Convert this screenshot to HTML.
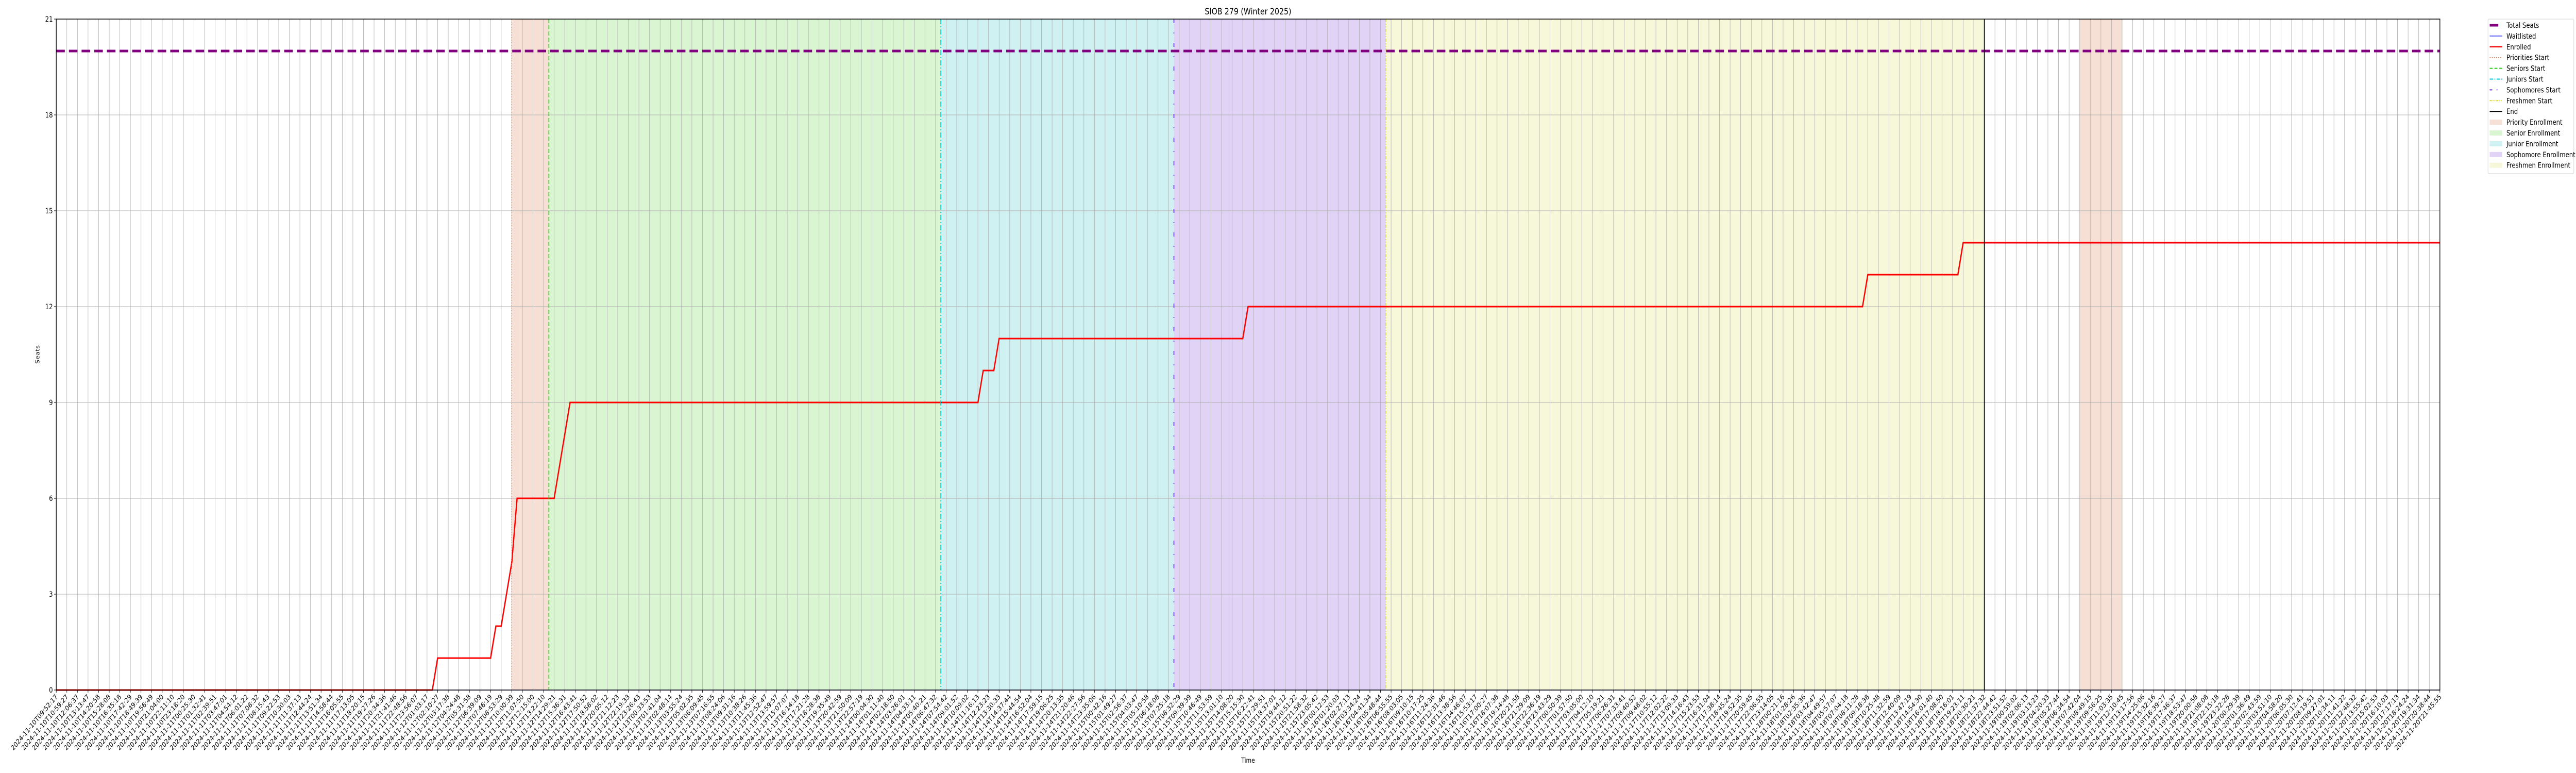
<!DOCTYPE html>
<html><head><meta charset="utf-8"><style>
html,body{margin:0;padding:0;background:#fff;width:100%;height:100%;overflow:hidden;}
svg{display:block;width:100vw;height:100vh;font-family:"DejaVu Sans","Liberation Sans",sans-serif;}
</style></head><body>
<svg id="chart" viewBox="0 0 6000 1500" preserveAspectRatio="none" xmlns="http://www.w3.org/2000/svg">
<g id="spans"></g>
<g id="grid"></g>
<g id="series"></g>
<g id="vlines"></g>
<g id="axes"></g>
<text x="2907" y="28" font-size="17" text-anchor="middle">SIOB 279 (Winter 2025)</text>
<text x="0" y="0" font-size="13" text-anchor="middle" transform="translate(92,688) rotate(-90)">Seats</text>
<text x="2907" y="1480" font-size="13" text-anchor="middle">Time</text>
<g id="legend"></g>
</svg>
<script>
// ---- data ----
const tickCount = 226;
const startTime = "2024-11-10T09:52:17";
const endTime = "2024-11-20T21:45:55";
const yTicks = [0, 3, 6, 9, 12, 15, 18, 21];
const totalSeats = 20;
const enrolledIdx = [0, 35.5, 36, 41, 41.5, 42, 43, 43.5, 47, 48.5, 87, 87.5, 88.5, 89, 112, 112.5, 170.5, 171, 179.5, 180, 225];
const enrolledVal = [0, 0, 1, 1, 2, 2, 4, 6, 6, 9, 9, 10, 10, 11, 11, 12, 12, 13, 13, 14, 14];
const waitlistIdx = [0, 225];
const waitlistVal = [0, 0];
const phaseNames = ["Priority", "Senior", "Junior", "Sophomore", "Freshmen", "Priority2"];
const phaseStart = [43, 46.5, 83.5, 105.5, 125.5, 191];
const phaseEnd = [46.5, 83.5, 105.5, 125.5, 182, 195];
const endIdx = 182;

// ---- scales ----
const X0 = 131, X1 = 5683, Y0 = 1339, Y1 = 37;
const NS = "http://www.w3.org/2000/svg";
const xs = i => X0 + (X1 - X0) * i / (tickCount - 1);
const ys = v => Y0 - (Y0 - Y1) * v / 21;
function mk(tag, attrs, parent) {
  const e = document.createElementNS(NS, tag);
  for (const k in attrs) e.setAttribute(k, attrs[k]);
  parent.appendChild(e);
  return e;
}
const pad = n => String(n).padStart(2, "0");
const t0 = Date.parse(startTime + "Z"), t1 = Date.parse(endTime + "Z");
const tickLabels = [];
for (let i = 0; i < tickCount; i++) {
  const d = new Date(t0 + (t1 - t0) * i / (tickCount - 1));
  tickLabels.push(d.getUTCFullYear() + "-" + pad(d.getUTCMonth() + 1) + "-" + pad(d.getUTCDate()) + "T" + pad(d.getUTCHours()) + ":" + pad(d.getUTCMinutes()) + ":" + pad(d.getUTCSeconds()));
}

// ---- spans ----
const spanColors = ["#f6dfd4", "#daf5d2", "#d0f1f2", "#e1d3f5", "#f7f8da", "#f6dfd4"];
const spans = document.getElementById("spans");
phaseNames.forEach((n, k) => {
  const r = mk("rect", {x: xs(phaseStart[k]), y: Y1, width: xs(phaseEnd[k]) - xs(phaseStart[k]), height: Y0 - Y1, fill: spanColors[k]}, spans);
  
  
});

// ---- grid ----
const grid = document.getElementById("grid");
for (let i = 0; i < tickCount; i++) {
  const l = mk("line", {x1: xs(i), x2: xs(i), y1: Y1, y2: Y0, stroke: "#b0b0b0", "stroke-width": 1}, grid);
  
  
}
yTicks.forEach(v => {
  const l = mk("line", {x1: X0, x2: X1, y1: ys(v), y2: ys(v), stroke: "#b0b0b0", "stroke-width": 1}, grid);
  
  
});

// ---- series ----
const series = document.getElementById("series");
const ts = mk("line", {x1: X0, x2: X1, y1: ys(totalSeats), y2: ys(totalSeats), stroke: "#800080", "stroke-width": 5, "stroke-dasharray": "20 9.5"}, series);


const wl = mk("polyline", {points: waitlistIdx.map((i, k) => xs(i) + "," + ys(waitlistVal[k])).join(" "), fill: "none", stroke: "#0000ff", "stroke-width": 1.2}, series);


const en = mk("polyline", {points: enrolledIdx.map((i, k) => xs(i) + "," + ys(enrolledVal[k])).join(" "), fill: "none", stroke: "#ff0000", "stroke-width": 3, "stroke-linejoin": "miter"}, series);



// ---- phase start lines ----
const vl = document.getElementById("vlines");
const vStyles = [
  {name: "priorities-start", c: "#ee6a30", d: "2 3", w: 1.5},
  {name: "seniors-start", c: "#33cc22", d: "8 4", w: 2},
  {name: "juniors-start", c: "#00c8d0", d: "10 4 2 4", w: 2},
  {name: "sophomores-start", c: "#6633cc", d: "8 18 2 18", w: 2},
  {name: "freshmen-start", c: "#dddd33", d: "6 3 2 3 2 3", w: 2}
];
vStyles.forEach((s, k) => {
  const l = mk("line", {x1: xs(phaseStart[k]), x2: xs(phaseStart[k]), y1: Y1, y2: Y0, stroke: s.c, "stroke-width": s.w, "stroke-dasharray": s.d}, vl);
  
  
});
const endL = mk("line", {x1: xs(endIdx), x2: xs(endIdx), y1: Y1, y2: Y0, stroke: "#000", "stroke-width": 2}, vl);



// ---- axes ----
const axes = document.getElementById("axes");
const fr = mk("rect", {x: X0, y: Y1, width: X1 - X0, height: Y0 - Y1, fill: "none", stroke: "#000", "stroke-width": 1.5}, axes);


yTicks.forEach(v => {
  const t = mk("line", {x1: X0 - 5, x2: X0, y1: ys(v), y2: ys(v), stroke: "#000", "stroke-width": 1}, axes);
  
  
  const tx = mk("text", {x: X0 - 8, y: ys(v) + 5, "font-size": 14, "text-anchor": "end"}, axes);
  tx.textContent = v;
  
  
});
tickLabels.forEach((lab, i) => {
  const t = mk("line", {x1: xs(i), x2: xs(i), y1: Y0, y2: Y0 + 5, stroke: "#000", "stroke-width": 1}, axes);
  
  
  const tx = mk("text", {x: 0, y: 0, "font-size": 13.5, "text-anchor": "end", transform: "translate(" + (xs(i) + 4) + "," + (Y0 + 14) + ") rotate(-45)"}, axes);
  tx.textContent = lab;
  
  
});

// ---- legend ----
const lg = document.getElementById("legend");
const box = mk("rect", {x: 5795, y: 37, width: 200, height: 300, fill: "#fff", stroke: "#d0d0d0", "stroke-width": 1, rx: 3}, lg);


const legItems = [
  {t: "Total Seats", type: "line", c: "#800080", w: 5, d: ""},
  {t: "Waitlisted", type: "line", c: "#0000ff", w: 1.2, d: ""},
  {t: "Enrolled", type: "line", c: "#ff0000", w: 2.5, d: ""},
  {t: "Priorities Start", type: "line", c: "#ee6a30", w: 1.5, d: "2 3"},
  {t: "Seniors Start", type: "line", c: "#33cc22", w: 2, d: "7 4"},
  {t: "Juniors Start", type: "line", c: "#00c8d0", w: 2, d: "8 3 2 3"},
  {t: "Sophomores Start", type: "line", c: "#6633cc", w: 2, d: "6 10 2 12"},
  {t: "Freshmen Start", type: "line", c: "#dddd33", w: 2, d: "5 2 2 2 2 2"},
  {t: "End", type: "line", c: "#000000", w: 2, d: ""},
  {t: "Priority Enrollment", type: "patch", c: "#f6dfd4"},
  {t: "Senior Enrollment", type: "patch", c: "#daf5d2"},
  {t: "Junior Enrollment", type: "patch", c: "#d0f1f2"},
  {t: "Sophomore Enrollment", type: "patch", c: "#e1d3f5"},
  {t: "Freshmen Enrollment", type: "patch", c: "#f7f8da"}
];
legItems.forEach((it, k) => {
  const cy = 49 + k * 20.9;
  const g = mk("g", {}, lg);
  
  
  if (it.type === "line") {
    const x2 = k === 0 ? 5819 : 5828;
    mk("line", {x1: 5799, x2: x2, y1: cy, y2: cy, stroke: it.c, "stroke-width": it.w, "stroke-dasharray": it.d}, g);
  } else {
    mk("rect", {x: 5799, y: cy - 5, width: 29, height: 10, fill: it.c}, g);
  }
  const tx = mk("text", {x: 5838, y: cy + 5, "font-size": 14}, g);
  tx.textContent = it.t;
});
</script>
</body></html>
